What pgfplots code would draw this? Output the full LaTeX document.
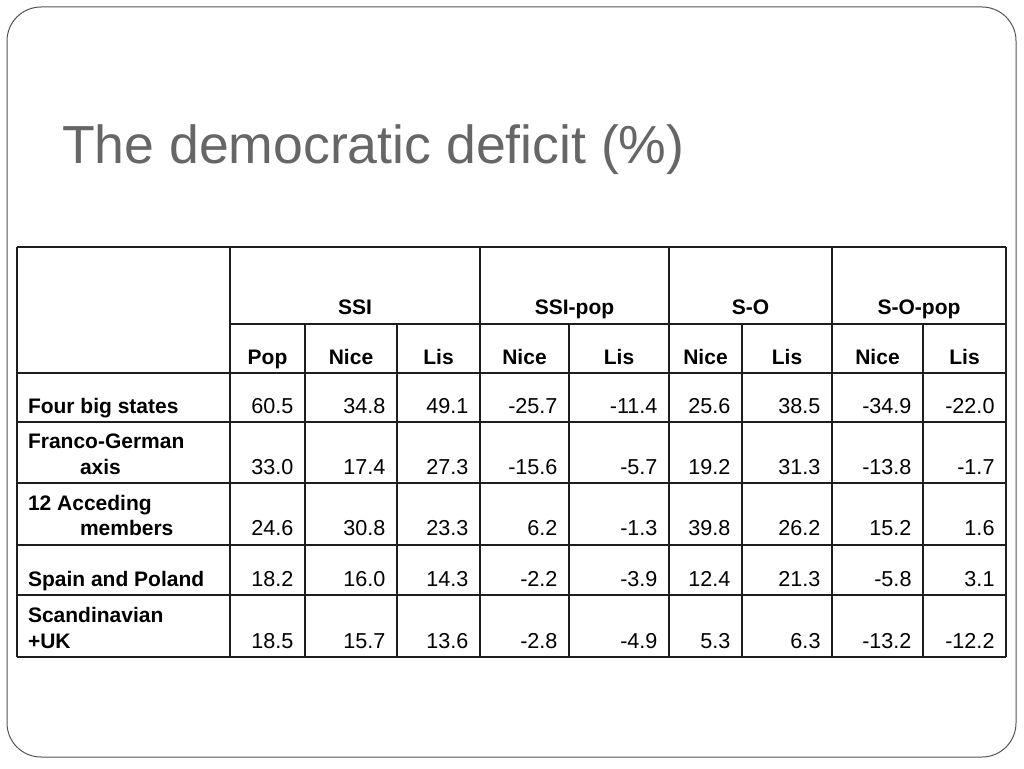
\documentclass[border=0pt]{standalone}
\usepackage{pgfplots}
\pgfplotsset{compat=1.18}
\usepackage{pgfplotstable}
\usepackage{fontspec}
\setmainfont{Liberation Sans}
\definecolor{titlegray}{RGB}{102,102,102}
\definecolor{framegray}{RGB}{85,85,85}
\definecolor{gridline}{RGB}{30,30,30}

% numeric values, one row per group; base = baseline of the row (px from top)
\pgfplotstableread{
base Pop  SSINice SSILis SPNice SPLis SONice SOLis SOPNice SOPLis
413  60.5 34.8    49.1   -25.7  -11.4 25.6   38.5  -34.9   -22.0
474  33.0 17.4    27.3   -15.6  -5.7  19.2   31.3  -13.8   -1.7
535  24.6 30.8    23.3   6.2    -1.3  39.8   26.2  15.2    1.6
586  18.2 16.0    14.3   -2.2   -3.9  12.4   21.3  -5.8    3.1
648  18.5 15.7    13.6   -2.8   -4.9  5.3    6.3   -13.2   -12.2
}\values

\pgfplotstableread[col sep=comma,row sep=\\]{
x,y,label\\
28,413,Four big states\\
28,448,Franco-German\\
80,474,axis\\
28,510,12 Acceding\\
80,535,members\\
28,586,Spain and Poland\\
28,622,Scandinavian\\
28,648,+UK\\
}\rowlabels

\pgfplotstableread[col sep=comma,row sep=\\]{
x,y,label\\
355,314,SSI\\
574.5,314,SSI-pop\\
750.5,314,S-O\\
919,314,S-O-pop\\
267.5,364,Pop\\
351,364,Nice\\
438.5,364,Lis\\
524.5,364,Nice\\
619,364,Lis\\
705.5,364,Nice\\
787,364,Lis\\
877.5,364,Nice\\
964.5,364,Lis\\
}\headers

\pgfplotstableread[col sep=comma,row sep=\\]{
x,y,label\\
62,163,The democratic deficit (\%)\\
}\titletab

\begin{document}
\begin{tikzpicture}
\begin{axis}[
  width=1024pt, height=768pt, scale only axis,
  xmin=0, xmax=1024, ymin=0, ymax=768, y dir=reverse,
  hide axis, clip=false,
  every node near coord/.append style={inner sep=0pt, outer sep=0pt, text=black},
]
% background (page extent)
\addplot[fill=white, draw=none] coordinates {(0,0) (1024,0) (1024,768) (0,768)} -- cycle;
% slide frame
\addplot[draw=framegray, line width=1pt, rounded corners=34pt]
  coordinates {(500,7) (1016,7) (1016,757) (7,757) (7,7) (500,7)};

% table grid: horizontal lines
\pgfplotsset{gl/.style={draw=gridline, line width=1.4pt, mark=none}}
\addplot[gl] coordinates {(17,247) (1006,247)};
\addplot[gl] coordinates {(230,324) (1006,324)};
\addplot[gl] coordinates {(17,373) (1006,373)};
\addplot[gl] coordinates {(17,422) (1006,422)};
\addplot[gl] coordinates {(17,483) (1006,483)};
\addplot[gl] coordinates {(17,545) (1006,545)};
\addplot[gl] coordinates {(17,595) (1006,595)};
\addplot[gl] coordinates {(17,657) (1006,657)};
% vertical lines
\addplot[gl] coordinates {(17,247) (17,657)};
\addplot[gl] coordinates {(230,247) (230,657)};
\addplot[gl] coordinates {(480,247) (480,657)};
\addplot[gl] coordinates {(669,247) (669,657)};
\addplot[gl] coordinates {(832,247) (832,657)};
\addplot[gl] coordinates {(1006,247) (1006,657)};
\addplot[gl] coordinates {(305,324) (305,657)};
\addplot[gl] coordinates {(397,324) (397,657)};
\addplot[gl] coordinates {(569,324) (569,657)};
\addplot[gl] coordinates {(742,324) (742,657)};
\addplot[gl] coordinates {(923,324) (923,657)};

% title
\addplot[draw=none, mark=none, nodes near coords={\pgfplotspointmeta}, point meta=explicit symbolic,
  every node near coord/.append style={anchor=base west, text=titlegray, font=\fontsize{53.6}{60}\selectfont}]
  table[x=x, y=y, meta=label] {\titletab};

% headers
\addplot[draw=none, mark=none, nodes near coords={\pgfplotspointmeta}, point meta=explicit symbolic,
  every node near coord/.append style={anchor=base, font=\fontsize{21}{25}\selectfont\bfseries}]
  table[x=x, y=y, meta=label] {\headers};

% row labels
\addplot[draw=none, mark=none, nodes near coords={\pgfplotspointmeta}, point meta=explicit symbolic,
  every node near coord/.append style={anchor=base west, font=\fontsize{21}{25}\selectfont\bfseries}]
  table[x=x, y=y, meta=label] {\rowlabels};

% values
\pgfplotsset{vals/.style={draw=none, mark=none, nodes near coords={\pgfplotspointmeta}, point meta=explicit symbolic,
  every node near coord/.append style={anchor=base east, font=\fontsize{21.6}{25}\selectfont}}}
\addplot[vals] table[x expr=293.5, y=base, meta=Pop] {\values};
\addplot[vals] table[x expr=385.5, y=base, meta=SSINice] {\values};
\addplot[vals] table[x expr=468.5, y=base, meta=SSILis] {\values};
\addplot[vals] table[x expr=557.5, y=base, meta=SPNice] {\values};
\addplot[vals] table[x expr=657.5, y=base, meta=SPLis] {\values};
\addplot[vals] table[x expr=730.5, y=base, meta=SONice] {\values};
\addplot[vals] table[x expr=820.5, y=base, meta=SOLis] {\values};
\addplot[vals] table[x expr=911.5, y=base, meta=SOPNice] {\values};
\addplot[vals] table[x expr=994.5, y=base, meta=SOPLis] {\values};
\end{axis}
\end{tikzpicture}
\end{document}
